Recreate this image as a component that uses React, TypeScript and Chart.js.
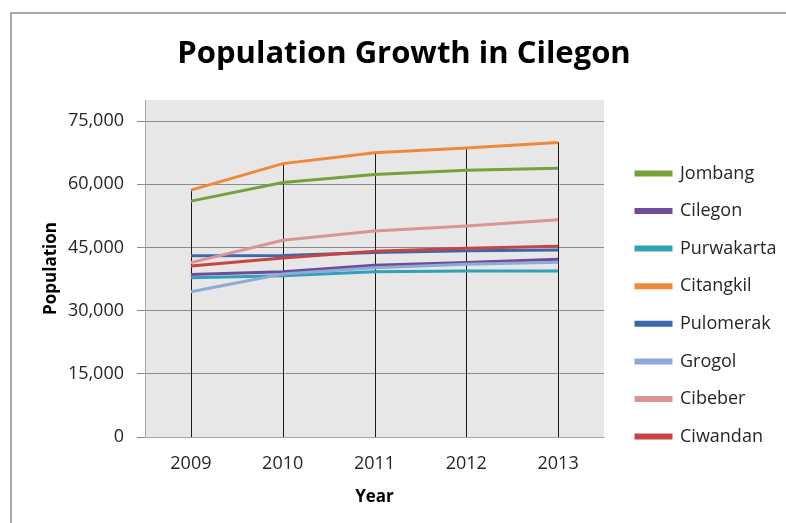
import React, { useEffect, useRef } from "react";
import { Chart, registerables } from "chart.js";

Chart.register(...registerables);

const years = ["2009", "2010", "2011", "2012", "2013"];
const seriesNames = ["Jombang", "Cilegon", "Purwakarta", "Citangkil", "Pulomerak", "Grogol", "Cibeber", "Ciwandan"];
const jombang = [56000, 60400, 62300, 63300, 63800];
const cilegon = [38600, 39200, 40800, 41400, 42200];
const purwakarta = [37800, 38300, 39200, 39400, 39400];
const citangkil = [58600, 64900, 67500, 68600, 69900];
const pulomerak = [43000, 43100, 43800, 44200, 44400];
const grogol = [34500, 38700, 40200, 41000, 41500];
const cibeber = [41400, 46700, 48900, 50100, 51600];
const ciwandan = [40600, 42500, 44100, 44800, 45300];
const seriesValues = [jombang, cilegon, purwakarta, citangkil, pulomerak, grogol, cibeber, ciwandan];
const seriesColors = ["#77a03b", "#6c4e98", "#31a0b8", "#f0883a", "#3a68aa", "#8eaad8", "#d99594", "#c84444"];
const yTicks = [0, 15000, 30000, 45000, 60000, 75000];
const yMin = 0;
const yMax = 80000;

const FONT = "'Open Sans'";

export default function App() {
  const ref = useRef<HTMLCanvasElement | null>(null);

  useEffect(() => {
    const canvas = ref.current;
    if (!canvas) return;

    const legendFont = 18;
    const legendPad = 19.6;
    const boxW = 35;
    const mctx = document.createElement("canvas").getContext("2d")!;
    mctx.font = `${legendFont}px ${FONT}`;
    const tw = Math.max(...seriesNames.map((n) => mctx.measureText(n).width));
    const legendW = legendPad + boxW + legendFont / 2 + tw + 10;
    const gapW = 636 - legendPad - 604;
    const plotRight = 604;
    const plotLeft = 145;
    const plotBottom = 437;
    const padR = 786 - plotRight - gapW - legendW;
    const padL = 22 + padR;

    const bgPlugin = {
      id: "bg",
      beforeDraw(chart: any) {
        const { ctx, chartArea } = chart;
        ctx.save();
        ctx.fillStyle = "#ffffff";
        ctx.fillRect(0, 0, chart.width, chart.height);
        ctx.strokeStyle = "#8a8a8a";
        ctx.lineWidth = 1.5;
        ctx.strokeRect(11, 13, 900, 700);
        ctx.fillStyle = "#e7e7e7";
        ctx.fillRect(chartArea.left, chartArea.top, chartArea.right - chartArea.left, chartArea.bottom - chartArea.top);
        ctx.restore();
      },
    };

    const dropPlugin = {
      id: "drop",
      beforeDatasetsDraw(chart: any) {
        const { ctx, scales } = chart;
        const xs = scales.x;
        const ys = scales.y;
        ctx.save();
        ctx.strokeStyle = "#1a1a1a";
        ctx.lineWidth = 1;
        years.forEach((_, i) => {
          const top = Math.max(...seriesValues.map((s) => s[i]));
          const x = Math.round(xs.getPixelForValue(i)) + 0.5;
          ctx.beginPath();
          ctx.moveTo(x, ys.getPixelForValue(top));
          ctx.lineTo(x, ys.getPixelForValue(0));
          ctx.stroke();
        });
        ctx.restore();
      },
    };

    const chart = new Chart(canvas, {
      type: "line",
      data: {
        labels: years,
        datasets: seriesNames.map((name, i) => ({
          label: name,
          data: seriesValues[i],
          borderColor: seriesColors[i],
          backgroundColor: seriesColors[i],
          borderWidth: 3,
          pointRadius: 0,
          tension: 0,
          order: seriesNames.length - i,
        })),
      },
      options: {
        responsive: false,
        animation: false,
        layout: { padding: { left: padL, right: padR, top: 0, bottom: 0 } },
        plugins: {
          tooltip: { enabled: false },
          title: {
            display: true,
            text: "Population Growth in Cilegon",
            color: "#000000",
            font: { family: FONT, size: 31, weight: "bold" },
            padding: { top: 35.6, bottom: 27.2 },
          },
          legend: {
            position: "right",
            align: "start",
            maxWidth: 400,
            title: { display: true, text: " ", font: { family: FONT, size: 10 }, padding: { top: 132.8, bottom: 0 } },
            labels: {
              font: { family: FONT, size: legendFont },
              color: "#262626",
              boxWidth: boxW,
              boxHeight: 3,
              padding: legendPad,
              sort: (a: any, b: any) => a.datasetIndex - b.datasetIndex,
            },
          },
        },
        scales: {
          x: {
            type: "category",
            offset: true,
            grid: { display: false, drawTicks: false },
            border: { display: true, color: "#a6a6a6", width: 1 },
            ticks: { font: { family: FONT, size: 18 }, color: "#262626", padding: 16 },
            title: { display: true, text: "Year", color: "#000", font: { family: FONT, size: 17, weight: "bold" }, padding: { top: 0, bottom: 16 } },
            afterFit: (s: any) => {
              s.height = 523 - plotBottom;
            },
          },
          y: {
            type: "linear",
            min: yMin,
            max: yMax,
            ticks: {
              font: { family: FONT, size: 18 },
              color: "#262626",
              padding: 13,
              callback: (v: any) => Number(v).toLocaleString("en-US"),
            },
            afterBuildTicks: (s: any) => {
              s.ticks = yTicks.map((v) => ({ value: v }));
            },
            grid: { color: "#8c8c8c", lineWidth: 1, tickLength: 8, drawTicks: true },
            border: { display: true, color: "#a6a6a6", width: 1 },
            title: { display: true, text: "Population", color: "#000", font: { family: FONT, size: 17, weight: "bold" }, padding: { top: 51 - padL - 10.2, bottom: 0 } },
            afterFit: (s: any) => {
              s.width = plotLeft - padL;
            },
          },
          gap: {
            type: "linear",
            position: "right",
            display: true,
            grid: { display: false, drawTicks: false },
            ticks: { display: false },
            border: { display: false },
            afterFit: (s: any) => {
              s.width = gapW;
            },
          },
        },
      } as any,
      plugins: [bgPlugin, dropPlugin],
    });
    return () => chart.destroy();
  }, []);

  return (
    <div style={{ position: "fixed", left: 0, top: 0, width: 786, height: 523 }}>
      <canvas ref={ref} width={786} height={523} style={{ display: "block" }} />
    </div>
  );
}
